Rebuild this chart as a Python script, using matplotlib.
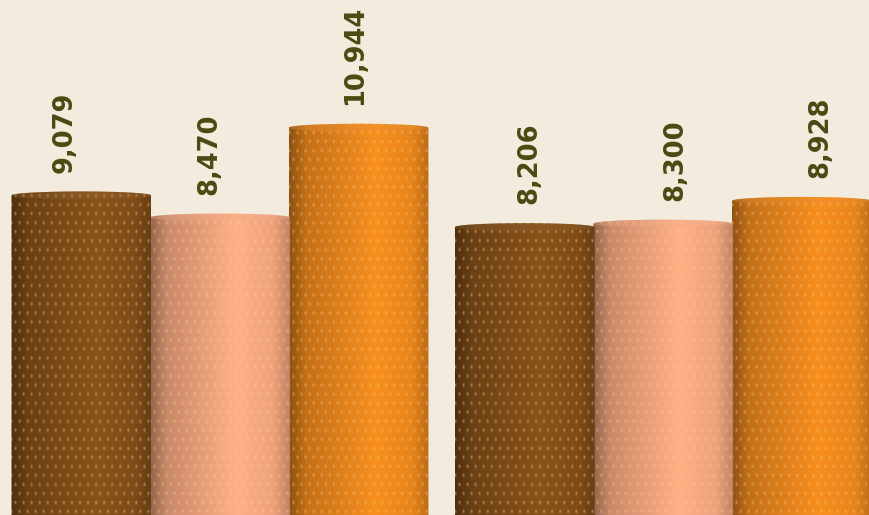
import numpy as np
import matplotlib.pyplot as plt
from matplotlib.patches import Polygon, Ellipse
from matplotlib.colors import to_rgb

# values for the two groups of three cylinders
values = [9079, 8470, 10944, 8206, 8300, 8928]
xpos = [0, 1, 2, 3.2, 4.2, 5.2]
colors = ['#7f4c17', '#eea27c', '#e6841c', '#7f4c17', '#eea27c', '#e6841c']
labels = [f'{v:,}' for v in values]

bg = '#f3ebdd'
width = 1.01
cap = 220  # height of the top ellipse in data units

fig = plt.figure(figsize=(8.7, 5.15), dpi=100)
fig.patch.set_facecolor(bg)
ax = fig.add_axes([0, 0, 1, 1])
ax.set_facecolor(bg)
ax.set_xlim(-0.588, 5.693)
ax.set_ylim(275, 14463)
ax.axis('off')


def texture(color, w, h):
    # horizontal shading of a cylinder plus a staggered grid of light dots
    u = np.linspace(0, 1, w)
    shade = np.interp(u, [0, 0.12, 0.62, 0.88, 1], [0.62, 0.85, 1.08, 1.0, 0.82])
    base = np.array(to_rgb(color))
    rgb = np.clip(shade[None, :, None] * base[None, None, :], 0, 1)
    rgb = np.repeat(rgb, h, axis=0)
    yy, xx = np.mgrid[0:h, 0:w]
    row = (yy // 9) % 2
    dx = ((xx + 4 * row) % 8) - 4
    dy = (yy % 9) - 4
    spot = np.exp(-(dx ** 2 / 1.0 + dy ** 2 / 2.5))
    light = np.array([1.0, 0.84, 0.55])
    a = 0.5 * spot[..., None]
    return rgb * (1 - a) + light * a


def cylinder(x, v, color, z):
    left, right = x - width / 2, x + width / 2
    top = v + cap / 2
    th = np.linspace(0, np.pi, 60)
    arc = np.column_stack([x + width / 2 * np.cos(th), v + cap / 2 * np.sin(th)])
    pts = np.vstack([[left, 0], [right, 0], arc])
    shape = Polygon(pts, closed=True, transform=ax.transData, facecolor='none', edgecolor='none')
    ax.add_patch(shape)
    p0, p1 = ax.transData.transform([(left, 0), (right, top)])
    w = int(abs(p1[0] - p0[0]))
    h = int(abs(p1[1] - p0[1]))
    img = ax.imshow(texture(color, w, h), extent=[left, right, 0, top], origin='lower',
                    aspect='auto', interpolation='bilinear', zorder=z)
    img.set_clip_path(shape)
    lid = np.array(to_rgb(color)) * 0.85 + 0.15
    ax.add_patch(Ellipse((x, v), width, cap, facecolor=lid, edgecolor='none',
                         alpha=0.3, zorder=z + 0.1))


for i, (x, v, c) in enumerate(zip(xpos, values, colors)):
    cylinder(x, v, c, 10 - i)

ax.set_xlim(-0.588, 5.693)
ax.set_ylim(275, 14463)

# value labels sit slightly spread out relative to the bars
for x, v, lab in zip(xpos, values, labels):
    lx = -0.123 + 1.05 * x
    ax.annotate(lab, xy=(lx, v), xytext=(0, 16.5), textcoords='offset points',
                rotation=90, ha='center', va='bottom', fontsize=18.5,
                fontweight='heavy', color='#4a4a12', family='DejaVu Sans', zorder=20)

fig.savefig('out.png', dpi=100, facecolor=bg)
